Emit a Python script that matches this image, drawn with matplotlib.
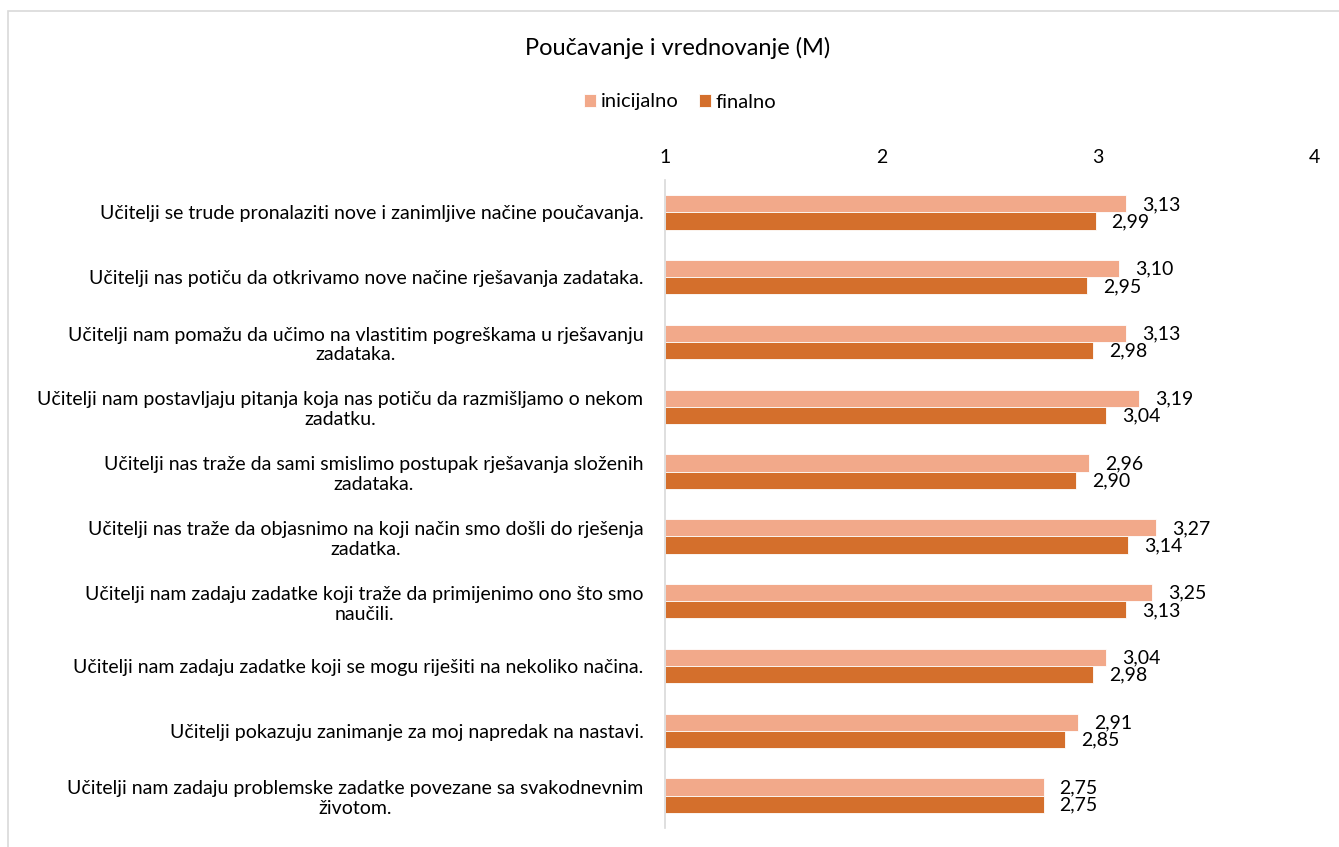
import matplotlib
matplotlib.use("Agg")
import matplotlib.pyplot as plt
import numpy as np
from matplotlib.patches import Rectangle

plt.rcParams['font.family'] = ['Lato', 'DejaVu Sans']

title = "Poučavanje i vrednovanje (M)"
categories = [
    "Učitelji se trude pronalaziti nove i zanimljive načine poučavanja.",
    "Učitelji nas potiču da otkrivamo nove načine rješavanja zadataka.",
    "Učitelji nam pomažu da učimo na vlastitim pogreškama u rješavanju\nzadataka.",
    "Učitelji nam postavljaju pitanja koja nas potiču da razmišljamo o nekom\nzadatku.",
    "Učitelji nas traže da sami smislimo postupak rješavanja složenih\nzadataka.",
    "Učitelji nas traže da objasnimo na koji način smo došli do rješenja\nzadatka.",
    "Učitelji nam zadaju zadatke koji traže da primijenimo ono što smo\nnaučili.",
    "Učitelji nam zadaju zadatke koji se mogu riješiti na nekoliko načina.",
    "Učitelji pokazuju zanimanje za moj napredak na nastavi.",
    "Učitelji nam zadaju problemske zadatke povezane sa svakodnevnim\nživotom.",
]
inicijalno = [3.13, 3.10, 3.13, 3.19, 2.96, 3.27, 3.25, 3.04, 2.91, 2.75]
finalno = [2.99, 2.95, 2.98, 3.04, 2.90, 3.14, 3.13, 2.98, 2.85, 2.75]
series_names = ["inicijalno", "finalno"]
colors = ["#F2A98A", "#D46F2C"]
xticks = [1, 2, 3, 4]

W, H = 1339, 847
fig = plt.figure(figsize=(W / 100, H / 100), dpi=100)
ax = fig.add_axes([665 / W, 1 - 828 / H, (1314 - 665) / W, (828 - 180) / H])

# outer frame
fig.patches.append(Rectangle((8 / W, -0.05), 1.2, 1 - 11 / H + 0.05,
                             transform=fig.transFigure, fill=False,
                             edgecolor="#D9D9D9", linewidth=1.2))

y = np.arange(len(categories))
h = 0.265
b1 = ax.barh(y - h / 2, np.array(inicijalno) - 1, left=1, height=h,
             color=colors[0], edgecolor="white", linewidth=0.6, label=series_names[0])
b2 = ax.barh(y + h / 2, np.array(finalno) - 1, left=1, height=h,
             color=colors[1], edgecolor="white", linewidth=0.6, label=series_names[1])

for bars, vals in ((b1, inicijalno), (b2, finalno)):
    for rect, v in zip(bars, vals):
        ax.annotate(f"{v:.2f}".replace(".", ","),
                    xy=(rect.get_x() + rect.get_width(), rect.get_y() + rect.get_height() / 2 + 0.01),
                    xytext=(11.5, 0), textcoords="offset points",
                    ha="left", va="center", fontsize=14, color="#000000")

ax.set_xlim(1, 4)
ax.set_ylim(len(categories) - 0.5, -0.5)
ax.set_xticks(xticks)
ax.set_xticklabels([str(t) for t in xticks], fontsize=14)
ax.xaxis.tick_top()
ax.tick_params(axis="x", length=0, pad=10)
ax.set_yticks(y)
ax.set_yticklabels(categories, fontsize=14, multialignment="center")
ax.tick_params(axis="y", length=0, pad=15.5)
for s in ["top", "right", "bottom"]:
    ax.spines[s].set_visible(False)
ax.spines["left"].set_color("#D9D9D9")
ax.spines["left"].set_linewidth(1.2)

fig.text(678 / W, 1 - 48 / H, title, ha="center", va="center", fontsize=17)
fig.legend(handles=[b1, b2], labels=series_names, loc="center",
           bbox_to_anchor=(680 / W, 1 - 102 / H), ncol=2, frameon=False,
           fontsize=14.5, handlelength=0.6, handleheight=0.6, handletextpad=0.25,
           columnspacing=1.0)

fig.savefig("out.png", dpi=100)
